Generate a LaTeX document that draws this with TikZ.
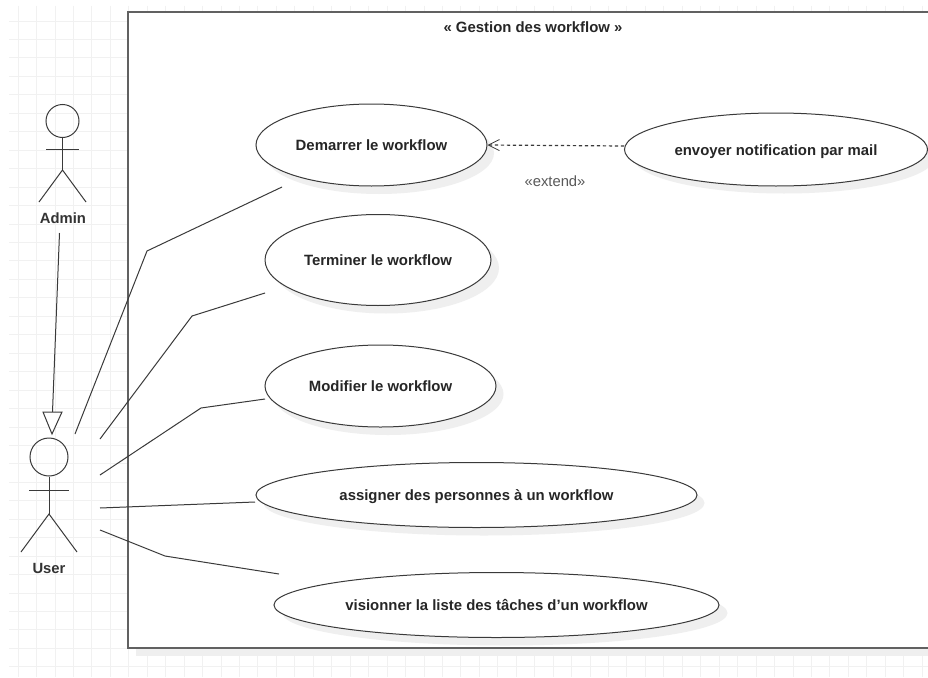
\documentclass[tikz,border=0pt]{standalone}
\usepackage{fontspec}
\setmainfont{Liberation Sans}
\usetikzlibrary{shapes.geometric,arrows.meta}
\definecolor{gridc}{HTML}{F1F1F1}
\definecolor{shadowc}{HTML}{EFEFEF}
\definecolor{linec}{HTML}{3A3A3A}
\tikzset{
  x=1pt,y=-1pt,
  usecase/.style={ellipse,draw=linec,fill=white,line width=1pt,inner sep=0pt,minimum width=#1,font=\fontsize{14.9pt}{16pt}\bfseries\selectfont,text=black!85,text height=11pt,text depth=0pt},
  conn/.style={draw=linec,line width=1pt},
  stick/.style={draw=linec,line width=1pt},
  actorlabel/.style={font=\fontsize{14.8pt}{16pt}\bfseries\selectfont,text=black!80,inner sep=0pt},
}
\begin{document}
\begin{tikzpicture}
\useasboundingbox (0,0) rectangle (928,677);
\fill[white] (0,0) rectangle (928,677);
% grid
\foreach \i in {0,...,49} \draw[gridc,line width=.8pt] ({18+18.45*\i},6) -- ({18+18.45*\i},677);
\foreach \i in {0,...,36} \draw[gridc,line width=.8pt] (9,{21+18.45*\i}) -- (928,{21+18.45*\i});
% system boundary
\fill[shadowc] (136,20) rectangle (928,656);
\node[draw=black!62,fill=white,line width=1.6pt,inner sep=0pt,outer sep=0pt,anchor=north west,minimum height=636pt,text width=820pt] (system) at (128,12) {};
\node[font=\fontsize{14.9pt}{16pt}\bfseries\selectfont,text=black!85,inner sep=0pt] (title) at (533,27) {« Gestion des workflow »};
% shadows
\fill[shadowc] (379,153) ellipse [x radius=115,y radius=41];
\fill[shadowc] (386,268) ellipse [x radius=113,y radius=45.5];
\fill[shadowc] (388,394) ellipse [x radius=115.5,y radius=41];
\fill[shadowc] (484,503) ellipse [x radius=220.5,y radius=32.5];
\fill[shadowc] (505,613) ellipse [x radius=222.5,y radius=32.5];
\fill[shadowc] (784,157) ellipse [x radius=151,y radius=36.5];
% use cases
\node[usecase=231pt,minimum height=82pt] (demarrer) at (371.5,145) {Demarrer le workflow};
\node[usecase=226pt,minimum height=91pt] (terminer) at (378,260) {Terminer le workflow};
\node[usecase=231pt,minimum height=82pt] (modifier) at (380.5,386) {Modifier le workflow};
\node[usecase=441pt,minimum height=65pt] (assigner) at (476.5,495) {assigner des personnes à un workflow};
\node[usecase=445pt,minimum height=65pt] (visionner) at (496.5,605) {visionner la liste des tâches d'un workflow};
\node[usecase=303pt,minimum height=73pt] (envoyer) at (776,149.5) {envoyer notification par mail};
\node[font=\fontsize{14.8pt}{16pt}\selectfont,text=black!65,inner sep=0pt] (extlabel) at (555,181) {«extend»};
% actor Admin
\node[circle,stick,minimum size=33pt,inner sep=0pt] (adminhead) at (62.5,121) {};
\coordinate (adminhip) at (62.5,170);
\coordinate (adminarmL) at (46,149.5);
\coordinate (adminarmR) at (79,149.5);
\coordinate (adminlegL) at (39,202);
\coordinate (adminlegR) at (86,202);
\draw[stick] (adminhead.south) -- (adminhip);
\draw[stick] (adminarmL) -- (adminarmR);
\draw[stick] (adminlegL) -- (adminhip) -- (adminlegR);
\node[actorlabel] (admin) at (63,218) {Admin};
% actor User
\node[circle,stick,minimum size=38pt,inner sep=0pt] (userhead) at (49,457) {};
\coordinate (userhip) at (49,514);
\coordinate (userarmL) at (29,490);
\coordinate (userarmR) at (69,490);
\coordinate (userlegL) at (21,552);
\coordinate (userlegR) at (77,552);
\draw[stick] (userhead.south) -- (userhip);
\draw[stick] (userarmL) -- (userarmR);
\draw[stick] (userlegL) -- (userhip) -- (userlegR);
\node[actorlabel] (user) at (49,568) {User};
% generalisation
\coordinate (genstart) at (59.5,233);
\coordinate (genbase) at (52.5,412);
\coordinate (gentip) at (52,434);
\draw[conn] (genstart) -- (genbase);
\draw[conn,fill=white] (43,412) -- (62,412) -- (gentip) -- cycle;
% free ends of associations
\coordinate (a1) at (75,434);
\coordinate (a2) at (100,439);
\coordinate (a3) at (100,475);
\coordinate (a4) at (100,508);
\coordinate (a5) at (100,530);
\coordinate (d1) at (282,187);
\coordinate (d2) at (265,293);
\coordinate (d3) at (265,399);
\coordinate (d4) at (255,502);
\coordinate (d5) at (279,574);
\draw[conn] (a1) -- (147,251) -- (d1);
\draw[conn] (a2) -- (192,316) -- (d2);
\draw[conn] (a3) -- (201,408) -- (d3);
\draw[conn] (a4) -- (d4);
\draw[conn] (a5) -- (165,556) -- (d5);
% extend
\draw[conn,line width=1.2pt,dash pattern=on 3.2pt off 2.8pt,-{Straight Barb[length=11pt,width=11pt,line width=.8pt]}] (envoyer.west |- 0,146) -- (demarrer.east |- 0,145);
\end{tikzpicture}
\end{document}
